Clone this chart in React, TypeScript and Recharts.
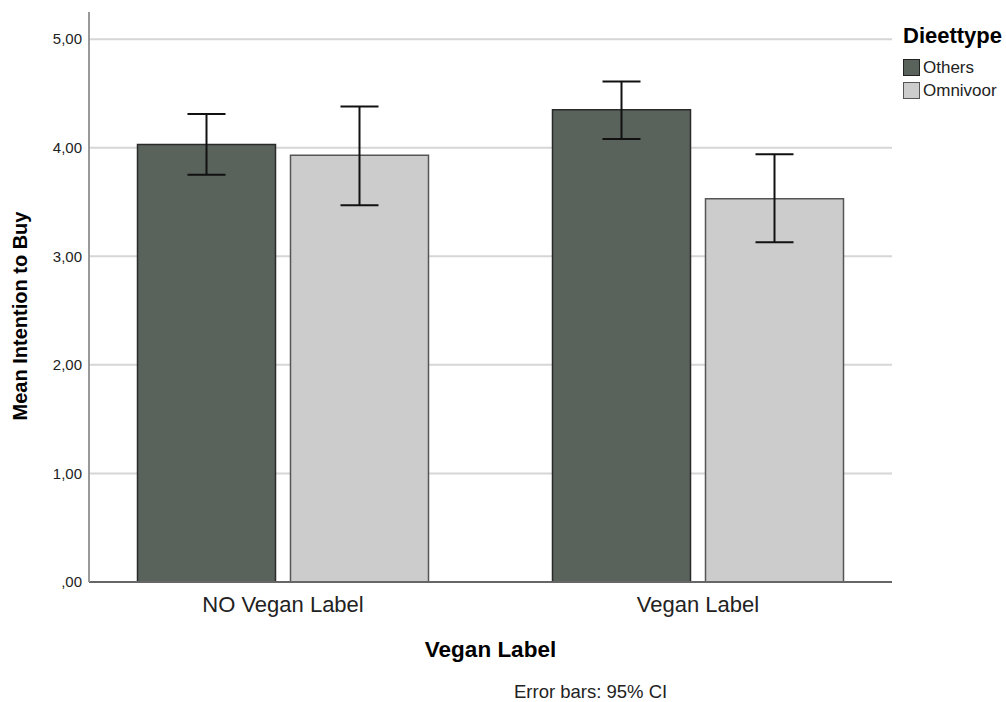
import { BarChart, Bar, XAxis, YAxis, CartesianGrid, ErrorBar, Label } from 'recharts';

const categories = ['NO Vegan Label', 'Vegan Label'];
const seriesNames = ['Others', 'Omnivoor'];
const othersMean = [4.03, 4.35];
const othersLow = [3.75, 4.08];
const othersHigh = [4.31, 4.61];
const omnivoorMean = [3.93, 3.53];
const omnivoorLow = [3.47, 3.13];
const omnivoorHigh = [4.38, 3.94];
const yTicks = [0, 1, 2, 3, 4, 5];

const FONT = '"Liberation Sans", Arial, sans-serif';
const DARK = '#5a625c';
const LIGHT = '#cccccc';
const seriesColors = [DARK, LIGHT];

const data = categories.map((name, i) => ({
  name,
  Others: othersMean[i],
  othersErr: [othersMean[i] - othersLow[i], othersHigh[i] - othersMean[i]],
  Omnivoor: omnivoorMean[i],
  omnivoorErr: [omnivoorMean[i] - omnivoorLow[i], omnivoorHigh[i] - omnivoorMean[i]],
}));

const fmt = (v: number) => (v === 0 ? ',00' : v.toFixed(2).replace('.', ','));

function LegendBox() {
  return (
    <div style={{ position: 'absolute', left: 903, top: 25, fontFamily: FONT, color: '#000' }}>
      <div style={{ fontSize: 22, fontWeight: 'bold', lineHeight: '22px', marginBottom: 9 }}>Dieettype</div>
      {seriesNames.map((name, i) => (
        <div key={name} style={{ display: 'flex', alignItems: 'center', height: 23, fontSize: 17, color: '#222' }}>
          <span
            style={{
              display: 'inline-block',
              width: 15,
              height: 15,
              background: seriesColors[i],
              border: i === 0 ? '1px solid #222' : '1px solid #555',
              marginRight: 3,
            }}
          />
          <span>{name}</span>
        </div>
      ))}
    </div>
  );
}

export default function App() {
  return (
    <div style={{ position: 'absolute', left: 0, top: 0, width: 1006, height: 702, background: '#fff' }}>
      <BarChart
        width={1006}
        height={702}
        data={data}
        margin={{ top: 12, right: 114, bottom: 0, left: 0 }}
        barSize={138}
        barGap={15}
      >
        <CartesianGrid vertical={false} horizontalValues={yTicks} stroke="#d6d6d6" strokeWidth={2} />
        <XAxis
          dataKey="name"
          height={120}
          padding={{ left: -13.5, right: -13.5 }}
          tickSize={0}
          tickMargin={14}
          tick={{ fontSize: 22, fill: '#222', fontFamily: FONT }}
          axisLine={{ stroke: '#666', strokeWidth: 2 }}
        >
          <Label
            value="Vegan Label"
            position="insideBottom"
            offset={45}
            style={{ fontSize: 22.5, fontWeight: 'bold', fill: '#000', fontFamily: FONT }}
          />
        </XAxis>
        <YAxis
          width={89}
          domain={[0, 5.25]}
          ticks={yTicks}
          tickFormatter={fmt}
          tickSize={0}
          tickMargin={7}
          tick={{ fontSize: 15, fill: '#222', fontFamily: FONT }}
          axisLine={{ stroke: '#999', strokeWidth: 2 }}
        >
          <Label
            content={() => (
              <text
                x={20}
                y={316}
                transform="rotate(-90 20 316)"
                textAnchor="middle"
                dominantBaseline="central"
                style={{ fontSize: 20, fontWeight: 'bold', fill: '#000', fontFamily: FONT }}
              >
                Mean Intention to Buy
              </text>
            )}
          />
        </YAxis>
        <Bar dataKey="Others" fill={DARK} stroke="#2a2a2a" strokeWidth={1.5} isAnimationActive={false}>
          <ErrorBar dataKey="othersErr" width={19} stroke="#111" strokeWidth={2} direction="y" />
        </Bar>
        <Bar dataKey="Omnivoor" fill={LIGHT} stroke="#555" strokeWidth={1.5} isAnimationActive={false}>
          <ErrorBar dataKey="omnivoorErr" width={19} stroke="#111" strokeWidth={2} direction="y" />
        </Bar>
      </BarChart>
      <LegendBox />
      <div
        style={{
          position: 'absolute',
          left: 514,
          top: 683,
          fontFamily: FONT,
          fontSize: 18.5,
          lineHeight: 1,
          color: '#222',
          whiteSpace: 'nowrap',
        }}
      >
        Error bars: 95% CI
      </div>
    </div>
  );
}
